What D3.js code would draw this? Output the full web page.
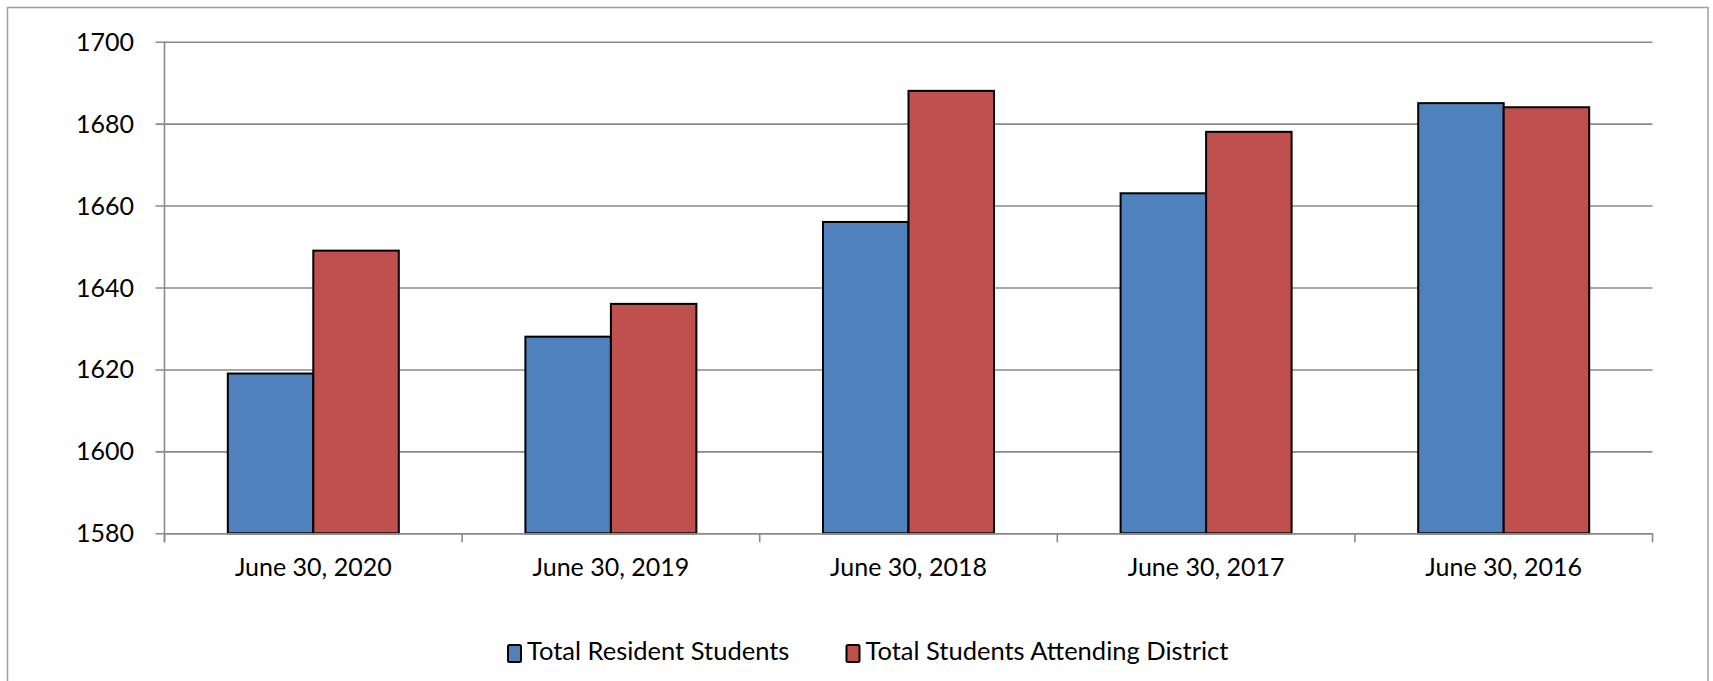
<!DOCTYPE html>
<html>
<head>
<meta charset="utf-8">
<script src="https://cdn.jsdelivr.net/npm/d3@7"></script>
<style>
  html, body { margin: 0; padding: 0; background: #ffffff; }
  svg { display: block; }
  text { font-family: Lato, "Open Sans", "Liberation Sans", sans-serif; fill: #000; }
</style>
</head>
<body>
<svg id="chart" width="1713" height="681"></svg>
<script>
const categories = ["June 30, 2020", "June 30, 2019", "June 30, 2018", "June 30, 2017", "June 30, 2016"];
const seriesNames = ["Total Resident Students", "Total Students Attending District"];
const residentStudents = [1619, 1628, 1656, 1663, 1685];
const attendingDistrict = [1649, 1636, 1688, 1678, 1684];
const yTicks = [1580, 1600, 1620, 1640, 1660, 1680, 1700];
const seriesColors = ["#4F81BD", "#C0504D"];

const seriesValues = [residentStudents, attendingDistrict];
const data = categories.map((c, i) => ({
  category: c,
  values: seriesNames.map((s, j) => ({ series: s, value: seriesValues[j][i] }))
}));

const svg = d3.select("#chart");
const W = 1713, H = 681;
const plot = { left: 164.5, right: 1652.5, top: 41.7, bottom: 533.3 };

svg.append("rect").attr("x", 0).attr("y", 0).attr("width", W).attr("height", H).attr("fill", "#fff");
// outer chart border
svg.append("rect")
  .attr("x", 7.5).attr("y", 7.5)
  .attr("width", 1700.5).attr("height", 700)
  .attr("fill", "none").attr("stroke", "#a0a0a0").attr("stroke-width", 1.5);

const y = d3.scaleLinear().domain([1580, 1700]).range([plot.bottom, plot.top]);
const x0 = d3.scaleBand().domain(categories).range([plot.left, plot.right]).paddingInner(0).paddingOuter(0);
const bw = x0.bandwidth();
const halfGap = bw * 0.2127;
const x1 = d3.scaleBand().domain(seriesNames).range([halfGap, bw - halfGap]).padding(0);
const color = d3.scaleOrdinal().domain(seriesNames).range(seriesColors);

// gridlines + y axis ticks
const yAxis = d3.axisLeft(y)
  .tickValues(yTicks)
  .tickSize(-(plot.right - plot.left))
  .tickSizeOuter(0)
  .tickFormat("");
const gy = svg.append("g").attr("transform", `translate(${plot.left},0)`).call(yAxis);
gy.select(".domain").remove();
gy.selectAll(".tick line").attr("stroke", "#8a8a8a").attr("stroke-width", 1.6)
  .attr("x1", -9);

// y labels
svg.append("g").selectAll("text.ylab")
  .data(yTicks).join("text")
  .attr("class", "ylab")
  .attr("x", 134)
  .attr("y", d => y(d))
  .attr("dy", "0.36em")
  .attr("text-anchor", "end")
  .attr("font-size", 25)
  .text(d => d);

// y axis line
svg.append("line")
  .attr("x1", plot.left).attr("x2", plot.left)
  .attr("y1", plot.top).attr("y2", plot.bottom + 9)
  .attr("stroke", "#8a8a8a").attr("stroke-width", 1.6);

// bars
const groups = svg.append("g").selectAll("g.cat")
  .data(data).join("g")
  .attr("class", "cat")
  .attr("transform", d => `translate(${x0(d.category)},0)`);
groups.selectAll("rect")
  .data(d => d.values).join("rect")
  .attr("x", d => x1(d.series))
  .attr("y", d => y(d.value))
  .attr("width", x1.bandwidth())
  .attr("height", d => y(1580) - y(d.value))
  .attr("fill", d => color(d.series))
  .attr("stroke", "#000")
  .attr("stroke-width", 2);

// x axis
const xAxis = d3.axisBottom(x0).tickSize(0).tickSizeOuter(0).tickFormat("");
const gx = svg.append("g").attr("transform", `translate(0,${plot.bottom})`).call(xAxis);
gx.select(".domain").attr("stroke", "#8a8a8a").attr("stroke-width", 1.6);
// category boundary ticks
const boundaries = categories.map(c => x0(c)).concat([x0(categories[categories.length - 1]) + bw]);
svg.append("g").selectAll("line.xt")
  .data(boundaries).join("line")
  .attr("class", "xt")
  .attr("x1", d => d).attr("x2", d => d)
  .attr("y1", plot.bottom).attr("y2", plot.bottom + 9)
  .attr("stroke", "#8a8a8a").attr("stroke-width", 1.6);

// x labels
svg.append("g").selectAll("text.xlab")
  .data(categories).join("text")
  .attr("class", "xlab")
  .attr("x", d => x0(d) + bw / 2)
  .attr("y", 575.5)
  .attr("text-anchor", "middle")
  .attr("font-size", 25)
  .text(d => d);

// legend
const legendPos = [{ sx: 508, tx: 527 }, { sx: 846.5, tx: 865.5 }];
const leg = svg.append("g").selectAll("g.leg")
  .data(seriesNames).join("g").attr("class", "leg");
leg.append("rect")
  .attr("x", (d, i) => legendPos[i].sx)
  .attr("y", 645)
  .attr("width", 13).attr("height", 17)
  .attr("rx", 1.5)
  .attr("fill", d => color(d))
  .attr("stroke", "#000").attr("stroke-width", 2);
leg.append("text")
  .attr("x", (d, i) => legendPos[i].tx)
  .attr("y", 659.5)
  .attr("font-size", 25.5)
  .text(d => d);
</script>
</body>
</html>
